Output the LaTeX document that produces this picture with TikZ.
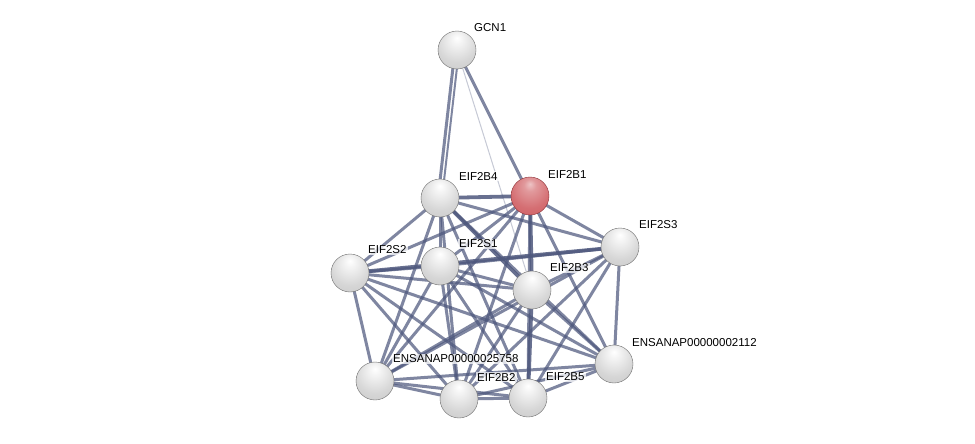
\documentclass[tikz,border=0pt]{standalone}
\usepackage{fontspec}
\setmainfont{Liberation Sans}
\usetikzlibrary{backgrounds}
\definecolor{edgecol}{RGB}{78,88,125}
\definecolor{rim}{RGB}{110,110,110}
\definecolor{redrim}{RGB}{140,50,55}
\definecolor{redbody}{RGB}{205,85,90}
\pgfdeclareradialshading{graysphere}{\pgfpoint{0bp}{16bp}}{
  color(0bp)=(white); color(8bp)=(white!95!black); color(26bp)=(white!84!black);
  color(50bp)=(white!76!black); color(60bp)=(white!58!black); color(70bp)=(white!45!black)}
\pgfdeclareradialshading{redsphere}{\pgfpoint{0bp}{16bp}}{
  color(0bp)=(redbody!35!white); color(8bp)=(redbody!60!white); color(26bp)=(redbody!85!white);
  color(50bp)=(redbody); color(60bp)=(redbody!75!black); color(70bp)=(redbody!55!black)}
\tikzset{
  protein/.style={circle,minimum size=38pt,inner sep=0pt,shading=graysphere,draw=rim,line width=0.4pt},
  query/.style={protein,shading=redsphere,draw=redrim},
  lbl/.style={anchor=west,font=\fontsize{11.5}{12}\selectfont,inner sep=1pt,fill=white,fill opacity=0.75,text opacity=1},
  link/.style={draw=edgecol,line width=3pt,opacity=0.72},
  strong/.style={link,line width=3.8pt,opacity=0.85},
  weak/.style={draw=edgecol!40,line width=1pt,opacity=0.8}
}
\begin{document}
\begin{tikzpicture}[x=1pt,y=-1pt]
\useasboundingbox (0,0) rectangle (975,444);
\node[protein] (gcn) at (457,50) {};
\node[protein] (b4) at (440,198) {};
\node[query] (b1) at (530,196) {};
\node[protein] (s3) at (620,247) {};
\node[protein] (s2) at (350,273) {};
\node[protein] (s1) at (440,266) {};
\node[protein] (b3) at (532,290) {};
\node[protein] (e2112) at (614,364) {};
\node[protein] (e25758) at (375,381) {};
\node[protein] (b2) at (459,399) {};
\node[protein] (b5) at (528,398) {};
\node[lbl] (lgcn) at (473,28) {GCN1};
\node[lbl] (lb4) at (458,176) {EIF2B4};
\node[lbl] (lb1) at (547,174) {EIF2B1};
\node[lbl] (ls3) at (638,225) {EIF2S3};
\node[lbl] (ls2) at (367,250) {EIF2S2};
\node[lbl] (ls1) at (458,244) {EIF2S1};
\node[lbl] (lb3) at (549,268) {EIF2B3};
\node[lbl] (l2112) at (631,343) {ENSANAP00000002112};
\node[lbl] (l25758) at (392,359) {ENSANAP00000025758};
\node[lbl] (lb2) at (476,377) {EIF2B2};
\node[lbl] (lb5) at (545,377) {EIF2B5};
\begin{scope}[on background layer]
\fill[white] (0,0) rectangle (975,444);
\draw[weak] (gcn.center) -- (b3.center);
\draw[link] ([xshift=-2pt]gcn.center) -- ([xshift=-2pt]b4.center);
\draw[link,line width=2pt] ([xshift=2pt]gcn.center) -- ([xshift=2pt]b4.center);
\draw[link] (gcn.center) -- (b1.center);
\foreach \a/\b in {b4/s3,b4/s2,b4/s1,b4/e2112,b4/e25758,b4/b2,b4/b5,
  b1/s3,b1/s2,b1/s1,b1/e2112,b1/e25758,b1/b2,b1/b5,
  s3/s1,s3/b3,s3/e2112,s3/e25758,s3/b2,s3/b5,
  s2/s1,s2/b3,s2/e2112,s2/e25758,s2/b2,s2/b5,
  s1/b3,s1/e2112,s1/e25758,s1/b2,s1/b5,
  b3/e2112,b3/e25758,b3/b2,
  e2112/e25758,e2112/b2,e2112/b5,
  e25758/b2,e25758/b5,b2/b5}
  \draw[link] (\a.center) -- (\b.center);
\foreach \a/\b in {b4/b1,b4/b3,b1/b3,s2/s3,b3/b5}
  \draw[strong] (\a.center) -- (\b.center);
\end{scope}
\end{tikzpicture}
\end{document}
